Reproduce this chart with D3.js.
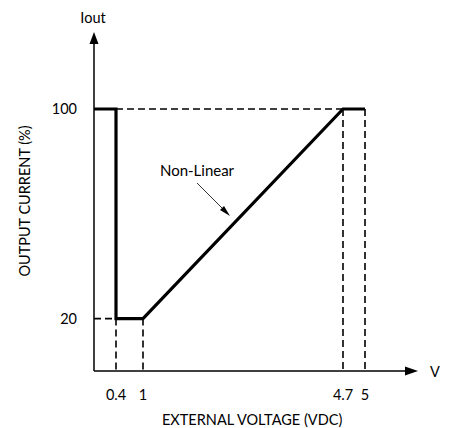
<!DOCTYPE html>
<html><head><meta charset="utf-8">
<script src="https://cdn.jsdelivr.net/npm/d3@7"></script>
<style>body{margin:0;background:#fff}svg{display:block}text{font-family:Lato,"Open Sans",sans-serif;fill:#000}</style>
</head><body>
<svg id="c" width="451" height="428"></svg>
<script>
const xTicks = [0.4, 1, 4.7, 5];
const xTickLabels = ["0.4", "1", "4.7", "5"];
const yTicks = [20, 100];
const yTickLabels = ["20", "100"];
const curveV = [0, 0.4, 0.4, 1, 4.7, 5];
const curveI = [100, 100, 20, 20, 100, 100];
const annotation = "Non-Linear";
const xTitle = "EXTERNAL VOLTAGE (VDC)";
const yTitle = "OUTPUT CURRENT (%)";

const svg = d3.select("#c");
// schematic (non-uniform) voltage axis
const x = d3.scaleLinear().domain([0, 0.4, 1, 4.7, 5]).range([94, 116, 143, 343, 365]);
const y = d3.scaleLinear().domain([0, 100]).range([371, 109]);

// dashed guides
const dash = "7,4";
const g = svg.append("g").attr("stroke", "#000").attr("stroke-width", 1.6).attr("stroke-dasharray", dash).attr("fill", "none");
g.append("line").attr("x1", x(0.4)).attr("x2", x(4.7)).attr("y1", y(100)).attr("y2", y(100));
g.append("line").attr("x1", x(0)).attr("x2", x(0.4)).attr("y1", y(20)).attr("y2", y(20));
[[0.4, 20], [1, 20], [4.7, 100], [5, 100]].forEach(([v, i]) => {
  g.append("line").attr("x1", x(v)).attr("x2", x(v)).attr("y1", y(i)).attr("y2", y(0));
});

// axes
svg.append("line").attr("x1", x(0)).attr("x2", x(0)).attr("y1", y(0)).attr("y2", 40).attr("stroke", "#000").attr("stroke-width", 1.5);
svg.append("path").attr("d", `M${x(0)},32 L${x(0)-4.5},44 L${x(0)+4.5},44 Z`).attr("fill", "#000");
svg.append("line").attr("x1", x(0)).attr("x2", 410).attr("y1", y(0)).attr("y2", y(0)).attr("stroke", "#000").attr("stroke-width", 1.5);
svg.append("path").attr("d", `M418,${y(0)} L405,${y(0)-4.5} L405,${y(0)+4.5} Z`).attr("fill", "#000");

// curve
const pts = curveV.map((v, k) => [v, curveI[k]]);
svg.append("path").datum(pts)
  .attr("d", d3.line().x(d => x(d[0])).y(d => y(d[1])))
  .attr("fill", "none").attr("stroke", "#000").attr("stroke-width", 3.2).attr("stroke-linejoin", "miter");

// tick labels
svg.selectAll(".xt").data(xTicks).enter().append("text")
  .attr("x", d => x(d)).attr("y", 400).attr("text-anchor", "middle").attr("font-size", 14.5)
  .text((d, k) => xTickLabels[k]);
svg.selectAll(".yt").data(yTicks).enter().append("text")
  .attr("x", 77).attr("y", d => y(d) + 5).attr("text-anchor", "end").attr("font-size", 14.5)
  .text((d, k) => yTickLabels[k]);

// axis names
svg.append("text").attr("x", 93).attr("y", 23).attr("text-anchor", "middle").attr("font-size", 14.5).text("Iout");
svg.append("text").attr("x", 435).attr("y", 377).attr("text-anchor", "middle").attr("font-size", 14.5).text("V");
svg.append("text").attr("x", 162).attr("y", 425).attr("text-anchor", "start").attr("font-size", 14.5).text(xTitle);
svg.append("text").attr("transform", "translate(30,201) rotate(-90)").attr("text-anchor", "middle").attr("font-size", 14.5).text(yTitle);

// annotation
svg.append("text").attr("x", 197).attr("y", 176).attr("text-anchor", "middle").attr("font-size", 15).text(annotation);
svg.append("line").attr("x1", 197).attr("y1", 183).attr("x2", 226).attr("y2", 212).attr("stroke", "#000").attr("stroke-width", 0.8);
svg.append("path").attr("d", "M230,216 L220,210 L224,206 Z").attr("fill", "#000");
</script>
</body></html>
